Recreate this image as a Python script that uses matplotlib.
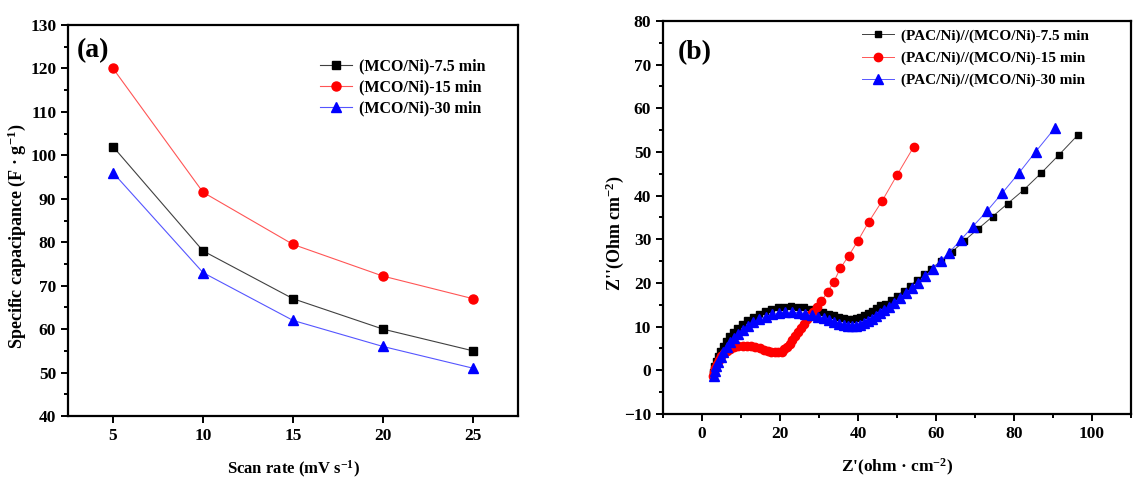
import numpy as np
import matplotlib
matplotlib.use('Agg')
import matplotlib.pyplot as plt
from matplotlib.ticker import MultipleLocator

# --- Panel (a): specific capacitance vs scan rate ---
scan_rate = [5, 10, 15, 20, 25]
cap_7_5 = [102, 78, 67, 60, 55]
cap_15 = [120, 91.5, 79.5, 72.2, 67]
cap_30 = [96, 73, 62, 56, 51]
labels_a = ['(MCO/Ni)-7.5 min', '(MCO/Ni)-15 min', '(MCO/Ni)-30 min']

# --- Panel (b): Nyquist plots ---
zre_7_5 = [2.8, 3.1, 3.5, 4.0, 4.6, 5.3, 6.1, 7.0, 8.0, 9.1, 10.3, 11.6, 13.0, 14.5,
           16.1, 17.7, 19.4, 21.1, 22.8, 24.5, 26.2, 27.9, 29.5, 31.0, 32.5, 33.9,
           35.2, 36.4, 37.5, 38.6, 39.6, 40.6, 41.6, 42.6, 43.6, 44.6, 45.7, 47.0,
           48.5, 50.0, 51.7, 53.4, 55.2, 57.0, 58.8, 61.4, 64.2, 67.3, 70.8, 74.5,
           78.4, 82.6, 86.9, 91.5, 96.4]
zim_7_5 = [-0.3, 0.9, 2.1, 3.3, 4.5, 5.6, 6.7, 7.8, 8.8, 9.8, 10.7, 11.5, 12.3, 13.0,
           13.6, 14.1, 14.4, 14.6, 14.7, 14.6, 14.4, 14.1, 13.8, 13.4, 13.0, 12.6,
           12.3, 12.0, 11.8, 11.8, 11.9, 12.2, 12.6, 13.1, 13.7, 14.3, 15.0, 15.3,
           16.2, 17.1, 18.2, 19.4, 20.7, 22.0, 23.3, 25.1, 27.2, 29.7, 32.4, 35.2,
           38.2, 41.4, 45.1, 49.3, 53.9]

zre_15 = [2.9, 3.1, 3.4, 3.8, 4.3, 4.9, 5.6, 6.4, 7.3, 8.3, 9.3, 10.4, 11.5, 12.6,
          13.7, 14.8, 15.8, 16.8, 17.8, 18.7, 19.6, 20.4, 21.1, 21.8, 22.5, 23.2,
          23.9, 24.6, 25.3, 26.1, 26.9, 27.7, 28.5, 29.5, 30.6, 32.2, 33.8, 35.5,
          37.6, 40.0, 42.7, 46.2, 50.0, 54.3]
zim_15 = [-1.3, -0.4, 0.6, 1.5, 2.4, 3.2, 3.9, 4.5, 4.9, 5.3, 5.5, 5.6, 5.6, 5.5,
          5.3, 5.0, 4.7, 4.4, 4.2, 4.1, 4.1, 4.3, 4.8, 5.4, 6.1, 6.9,
          7.8, 8.7, 9.7, 10.7, 11.7, 12.6, 13.4, 14.4, 15.9, 17.9, 20.3, 23.4,
          26.2, 29.7, 33.9, 38.8, 44.7, 51.2]

zre_30 = [3.0, 3.3, 3.7, 4.2, 4.8, 5.5, 6.3, 7.2, 8.2, 9.3, 10.5, 11.8, 13.2, 14.7,
          16.3, 18.0, 19.7, 21.4, 23.1, 24.8, 26.5, 28.1, 29.7, 31.2, 32.6, 33.9,
          35.1, 36.3, 37.4, 38.5, 39.6, 40.6, 41.6, 42.6, 43.6, 44.6, 45.7, 46.8,
          48.0, 49.3, 50.7, 52.2, 53.8, 55.5, 57.3, 59.2, 61.2, 63.3, 66.3, 69.4,
          73.1, 76.9, 81.2, 85.6, 90.6]
zim_30 = [-1.2, -0.2, 0.9, 2.0, 3.1, 4.2, 5.3, 6.4, 7.4, 8.4, 9.3, 10.2, 11.0, 11.7,
          12.3, 12.8, 13.1, 13.3, 13.3, 13.2, 13.0, 12.7, 12.3, 11.9, 11.5, 11.1,
          10.7, 10.4, 10.2, 10.1, 10.2, 10.4, 10.8, 11.3, 11.8, 12.4, 13.1, 13.8,
          14.6, 15.5, 16.5, 17.6, 18.8, 20.1, 21.6, 23.2, 25.0, 26.9, 29.8, 32.9,
          36.5, 40.5, 45.1, 50.1, 55.6]
labels_b = ['(PAC/Ni)//(MCO/Ni)-7.5 min', '(PAC/Ni)//(MCO/Ni)-15 min',
            '(PAC/Ni)//(MCO/Ni)-30 min']

# --- Style ---
plt.rcParams['font.family'] = 'Liberation Serif'
plt.rcParams['font.weight'] = 'bold'
plt.rcParams['mathtext.fontset'] = 'custom'
plt.rcParams['mathtext.rm'] = 'Liberation Serif:bold'
plt.rcParams['mathtext.it'] = 'Liberation Serif:bold'
plt.rcParams['mathtext.bf'] = 'Liberation Serif:bold'
plt.rcParams['axes.linewidth'] = 1.6

LINE_COLORS = ['#404040', '#ff5555', '#5555ff']
MARK_COLORS = ['black', 'red', 'blue']


def style_axes(ax):
    ax.tick_params(which='both', direction='out', labelsize=12.5, width=1.4,
                   top=False, right=False)
    ax.tick_params(which='major', length=5)
    ax.tick_params(which='minor', length=3)
    for lab in ax.get_xticklabels() + ax.get_yticklabels():
        lab.set_fontweight('bold')


fig = plt.figure(figsize=(11.38, 4.79), dpi=100)
ax1 = fig.add_axes([0.0598, 0.1315, 0.3954, 0.8163])
ax2 = fig.add_axes([0.5826, 0.1357, 0.4112, 0.8205])

# Panel (a)
series_a = [cap_7_5, cap_15, cap_30]
markers_a = ['s', 'o', '^']
msizes_a = [5.5, 6.5, 7.0]
for vals, lab, m, ms, lc, mc in zip(series_a, labels_a, markers_a, msizes_a,
                                    LINE_COLORS, MARK_COLORS):
    ax1.plot(scan_rate, vals, color=lc, lw=0.8, marker=m, ms=ms,
             mfc=mc, mec=mc, label=lab)
ax1.set_xlim(2.5, 27.5)
ax1.set_ylim(40, 130)
ax1.xaxis.set_major_locator(MultipleLocator(5))
ax1.yaxis.set_major_locator(MultipleLocator(10))
ax1.yaxis.set_minor_locator(MultipleLocator(5))
ax1.set_xlabel('Scan rate (mV s$^{-1}$)', fontsize=12, fontweight='bold', labelpad=11)
ax1.set_ylabel('Specific capacipance (F · g$^{-1}$)', fontsize=13, fontweight='bold')
ax1.yaxis.set_label_coords(-0.09, 0.46)
ax1.text(0.02, 0.935, '(a)', transform=ax1.transAxes, fontsize=20,
         fontweight='bold', va='center', ha='left')
ax1.legend(loc='upper left', bbox_to_anchor=(0.545, 0.93), frameon=False,
           fontsize=11.5, handlelength=2.0, handletextpad=0.45, labelspacing=0.3,
           borderaxespad=0)
style_axes(ax1)

# Panel (b)
series_b = [(zre_7_5, zim_7_5), (zre_15, zim_15), (zre_30, zim_30)]
msizes_b = [5.0, 6.0, 7.0]
for (xs, ys), lab, m, ms, lc, mc in zip(series_b, labels_b, markers_a, msizes_b,
                                        LINE_COLORS, MARK_COLORS):
    ax2.plot(xs, ys, color=lc, lw=0.7, marker=m, ms=ms,
             mfc=mc, mec=mc, label=lab)
ax2.set_xlim(-10, 110)
ax2.set_ylim(-10, 80)
ax2.xaxis.set_major_locator(MultipleLocator(20))
ax2.xaxis.set_minor_locator(MultipleLocator(10))
ax2.yaxis.set_major_locator(MultipleLocator(10))
ax2.yaxis.set_minor_locator(MultipleLocator(5))
ax2.set_xlabel("Z'(ohm · cm$^{-2}$)", fontsize=12.5, fontweight='bold', labelpad=11)
ax2.set_ylabel("Z''(Ohm cm$^{-2}$)", fontsize=13, fontweight='bold')
ax2.yaxis.set_label_coords(-0.08, 0.46)
ax2.text(0.032, 0.92, '(b)', transform=ax2.transAxes, fontsize=20,
         fontweight='bold', va='center', ha='left')
ax2.legend(loc='upper left', bbox_to_anchor=(0.413, 0.995), frameon=False,
           fontsize=11, handlelength=2.1, handletextpad=0.45, labelspacing=0.55,
           borderaxespad=0)
style_axes(ax2)

fig.savefig('out.png', dpi=100)
